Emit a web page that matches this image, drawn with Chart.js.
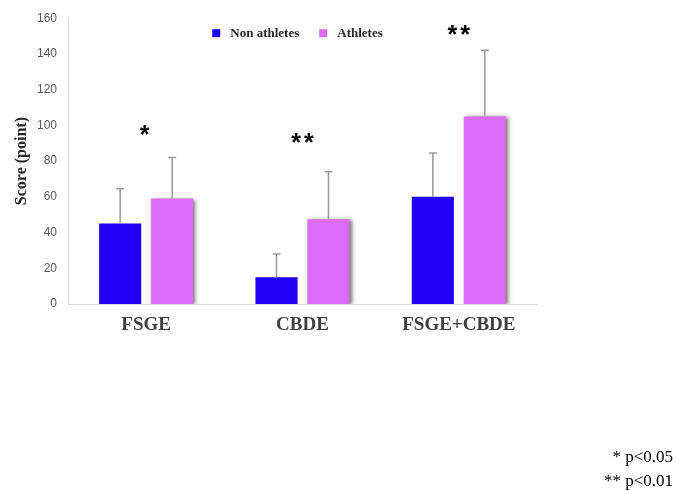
<!DOCTYPE html>
<html>
<head>
<meta charset="utf-8">
<script src="https://cdn.jsdelivr.net/npm/chart.js@4/dist/chart.umd.min.js"></script>
<style>
  html, body { margin: 0; padding: 0; background: #ffffff; }
  #wrap { width: 689px; height: 491px; position: relative; }
</style>
</head>
<body>
<div id="wrap"><canvas id="c" width="689" height="491"></canvas></div>
<script>
// Groups and mean scores with upper SD limits
const categories = ['FSGE', 'CBDE', 'FSGE+CBDE'];
const nonAthletes = [45, 15, 60];
const athletes = [59, 47.5, 105];
const nonAthletesUpper = [64.5, 28, 84.5];
const athletesUpper = [82, 74, 142];
// Significance markers per group and the score level they sit at
const sigMarks = ['*', '**', '**'];
const sigLevels = [96, 92, 152];
const footnotes = ['* p<0.05', '** p<0.01'];

const serif = '"Liberation Serif", "Times New Roman", serif';
const sans = '"Liberation Sans", Arial, sans-serif';

// Soft drop shadow under the athletes bars
const shadowPlugin = {
  id: 'barShadow',
  beforeDatasetDraw(chart, args) {
    if (args.index !== 1) return;
    const ctx = chart.ctx;
    ctx.save();
    ctx.shadowColor = 'rgba(0,0,0,0.55)';
    ctx.shadowBlur = 4;
    ctx.shadowOffsetX = 2;
    ctx.shadowOffsetY = 1;
  },
  afterDatasetDraw(chart, args) {
    if (args.index !== 1) return;
    chart.ctx.restore();
  }
};

// Upward error bars with a small cap
const errorBarPlugin = {
  id: 'errorBars',
  afterDatasetsDraw(chart) {
    const ctx = chart.ctx;
    const y = chart.scales.y;
    const uppers = [nonAthletesUpper, athletesUpper];
    ctx.save();
    ctx.strokeStyle = '#9a9a9a';
    ctx.lineWidth = 1.5;
    chart.data.datasets.forEach((ds, di) => {
      const meta = chart.getDatasetMeta(di);
      meta.data.forEach((bar, i) => {
        const top = y.getPixelForValue(ds.data[i]);
        const hi = y.getPixelForValue(uppers[di][i]);
        ctx.beginPath();
        ctx.moveTo(bar.x, top);
        ctx.lineTo(bar.x, hi);
        ctx.moveTo(bar.x - 4, hi);
        ctx.lineTo(bar.x + 4, hi);
        ctx.stroke();
      });
    });
    ctx.restore();
  }
};

// Horizontal legend placed inside the top of the plot area
const legendPlugin = {
  id: 'innerLegend',
  afterDraw(chart) {
    const ctx = chart.ctx;
    const area = chart.chartArea;
    ctx.save();
    ctx.font = 'bold 13px ' + serif;
    ctx.textBaseline = 'middle';
    ctx.textAlign = 'left';
    const box = 8, gapText = 10, gapItem = 20;
    const widths = chart.data.datasets.map(ds => box + gapText + ctx.measureText(ds.label).width);
    const total = widths.reduce((a, b) => a + b, 0) + gapItem * (widths.length - 1);
    let x = (area.left + area.right) / 2 - total / 2 - 5;
    const yMid = area.top + 15;
    chart.data.datasets.forEach((ds, i) => {
      ctx.fillStyle = ds.backgroundColor;
      ctx.fillRect(x, yMid - box / 2, box, box);
      ctx.fillStyle = '#262626';
      ctx.fillText(ds.label, x + box + gapText, yMid);
      x += widths[i] + gapItem;
    });
    ctx.restore();
  }
};

// Significance asterisks and the p-value key
const annotationPlugin = {
  id: 'sigNotes',
  afterDraw(chart) {
    const ctx = chart.ctx;
    const x = chart.scales.x;
    const y = chart.scales.y;
    ctx.save();
    ctx.fillStyle = '#000000';
    ctx.textAlign = 'center';
    ctx.textBaseline = 'middle';
    ctx.font = 'bold 25px ' + sans;
    if ('letterSpacing' in ctx) ctx.letterSpacing = '3px';
    sigMarks.forEach((m, i) => {
      ctx.fillText(m, x.getPixelForValue(i) + (m.length > 1 ? 1.5 : 0), y.getPixelForValue(sigLevels[i]) + 4);
    });
    if ('letterSpacing' in ctx) ctx.letterSpacing = '0px';
    ctx.font = '17px ' + serif;
    ctx.textAlign = 'right';
    ctx.fillText(footnotes[0], 673, 458);
    ctx.fillText(footnotes[1], 673, 482);
    ctx.restore();
  }
};

new Chart(document.getElementById('c'), {
  type: 'bar',
  data: {
    labels: categories,
    datasets: [
      { label: 'Non athletes', data: nonAthletes, backgroundColor: '#2200F5' },
      { label: 'Athletes', data: athletes, backgroundColor: '#DA6CF7' }
    ]
  },
  options: {
    responsive: false,
    animation: false,
    devicePixelRatio: 1,
    layout: { padding: { top: 18, right: 152, left: 0, bottom: 0 } },
    datasets: { bar: { categoryPercentage: 0.665, barPercentage: 0.81 } },
    plugins: {
      tooltip: { enabled: false },
      legend: { display: false }
    },
    scales: {
      x: {
        grid: { display: false, drawTicks: false },
        border: { display: true, color: '#d9d9d9', width: 1 },
        ticks: {
          padding: 10,
          color: '#404040',
          font: { family: serif, size: 19, weight: 'bold' }
        },
        afterFit(scale) { scale.height = 187; }
      },
      y: {
        min: 0,
        max: 160,
        grid: { display: false, drawTicks: false },
        border: { display: true, color: '#d9d9d9', width: 1 },
        ticks: {
          stepSize: 20,
          padding: 11,
          color: '#595959',
          font: { family: sans, size: 12 }
        },
        title: {
          display: true,
          text: 'Score (point)',
          color: '#262626',
          padding: { top: 12, bottom: 6 },
          font: { family: serif, size: 16, weight: 'bold' }
        },
        afterFit(scale) { scale.width = 68; }
      }
    }
  },
  plugins: [shadowPlugin, errorBarPlugin, legendPlugin, annotationPlugin]
});
</script>
</body>
</html>
